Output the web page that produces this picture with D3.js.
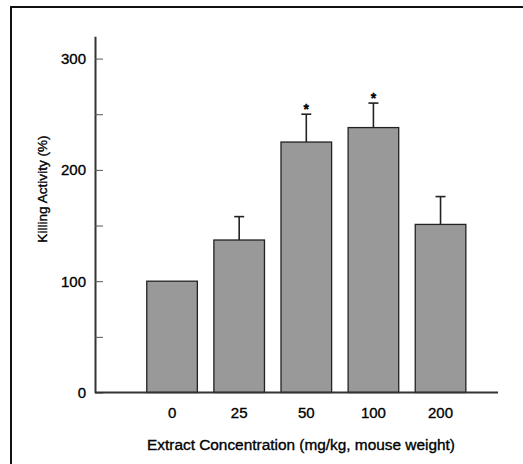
<!DOCTYPE html>
<html>
<head>
<meta charset="utf-8">
<script src="https://cdn.jsdelivr.net/npm/d3@7"></script>
<style>
  html, body { margin: 0; padding: 0; background: #fff; }
  svg { display: block; }
  text { font-family: Arial, "Liberation Sans", Helvetica, sans-serif; fill: #000; stroke: #000; stroke-width: 0.35px; }
</style>
</head>
<body>
<svg id="chart" width="523" height="464"></svg>
<script>
// Dose groups and killing activity (mean, SD)
const categories = ["0", "25", "50", "100", "200"];
const means = [100, 137, 225, 238, 151];
const errors = [0, 21, 25, 22, 25];
const significant = [false, false, true, true, false];
const yTicks = [0, 50, 100, 150, 200, 250, 300];
const yLabels = [0, 100, 200, 300];

const svg = d3.select("#chart");

// Outer frame
svg.append("rect")
  .attr("x", 11).attr("y", 7)
  .attr("width", 700).attr("height", 700)
  .attr("fill", "none").attr("stroke", "#111").attr("stroke-width", 2);

const x = d3.scaleBand()
  .domain(categories)
  .range([138.5, 474.1])
  .paddingInner(0.246)
  .paddingOuter(0.123);

const y = d3.scaleLinear()
  .domain([0, 320])
  .range([392.5, 36.3]);

const axisX0 = 95, axisX1 = 498;

// Bars
svg.append("g").selectAll("rect")
  .data(means)
  .join("rect")
  .attr("x", (d, i) => x(categories[i]))
  .attr("y", d => y(d))
  .attr("width", x.bandwidth())
  .attr("height", d => y(0) - y(d))
  .attr("fill", "#999999")
  .attr("stroke", "#222")
  .attr("stroke-width", 1.3);

// Upper error bars
const eb = svg.append("g").attr("stroke", "#222").attr("stroke-width", 1.6);
means.forEach((m, i) => {
  if (!errors[i]) return;
  const cx = x(categories[i]) + x.bandwidth() / 2;
  eb.append("line").attr("x1", cx).attr("x2", cx)
    .attr("y1", y(m)).attr("y2", y(m + errors[i]));
  eb.append("line").attr("x1", cx - 5).attr("x2", cx + 5)
    .attr("y1", y(m + errors[i])).attr("y2", y(m + errors[i]));
});

// Significance markers
svg.append("g").selectAll("text")
  .data(means.map((m, i) => ({ m, i })).filter(d => significant[d.i]))
  .join("text")
  .attr("x", d => x(categories[d.i]) + x.bandwidth() / 2)
  .attr("y", d => y(d.m + errors[d.i]) - 0.5)
  .attr("text-anchor", "middle")
  .attr("font-size", 14)
  .attr("font-weight", "bold")
  .text("*");

// Y axis with inward ticks
const yAxis = d3.axisLeft(y)
  .tickValues(yTicks)
  .tickSizeInner(-8)
  .tickSizeOuter(0)
  .tickPadding(9)
  .tickFormat(d => yLabels.includes(d) ? d : "");

const gy = svg.append("g")
  .attr("transform", `translate(${axisX0},0)`)
  .call(yAxis);
gy.select(".domain").attr("stroke", "#333").attr("stroke-width", 2);
gy.selectAll(".tick line").attr("stroke", "#555").attr("stroke-width", 1);
gy.selectAll(".tick text")
  .attr("font-size", 15)
  .attr("font-family", "Arial, 'Liberation Sans', sans-serif")
  .attr("fill", "#000");

// X baseline
svg.append("line")
  .attr("x1", axisX0).attr("x2", axisX1)
  .attr("y1", y(0)).attr("y2", y(0))
  .attr("stroke", "#333").attr("stroke-width", 2);

// X category labels
const gx = svg.append("g")
  .attr("transform", `translate(0,${y(0)})`)
  .call(d3.axisBottom(x).tickSize(0).tickPadding(15));
gx.select(".domain").remove();
gx.selectAll(".tick text")
  .attr("font-size", 15)
  .attr("font-family", "Arial, 'Liberation Sans', sans-serif")
  .attr("fill", "#000");

// Axis titles
svg.append("text")
  .attr("x", 301).attr("y", 450)
  .attr("text-anchor", "middle")
  .attr("font-size", 15.4)
  .text("Extract Concentration (mg/kg, mouse weight)");

svg.append("text")
  .attr("transform", "translate(47,189) rotate(-90)")
  .attr("text-anchor", "middle")
  .attr("font-size", 13.6)
  .text("Killing Activity (%)");
</script>
</body>
</html>
